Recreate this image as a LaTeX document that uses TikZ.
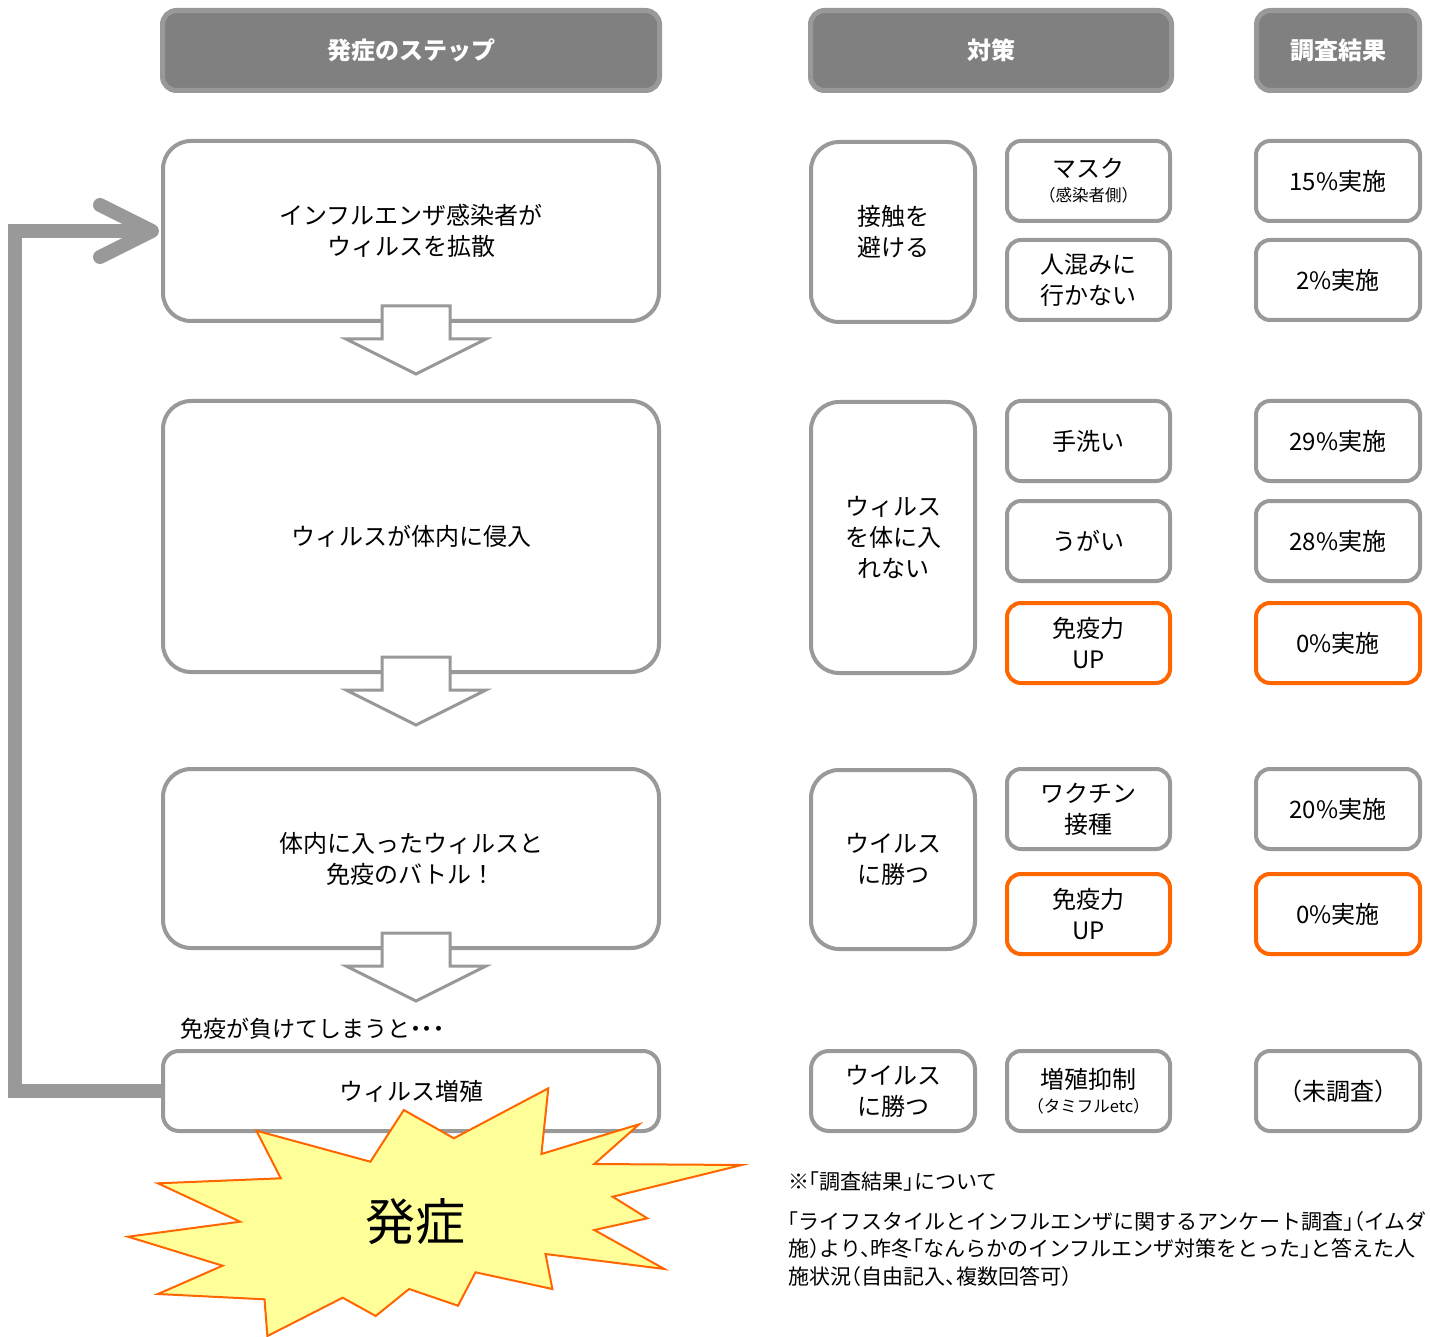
\documentclass[tikz,border=0pt]{standalone}
\usepackage{fontspec}
\setmainfont{Noto Sans CJK JP}
\newfontfamily\halffont[RawFeature=+halt]{Noto Sans CJK JP}
\usetikzlibrary{calc}
\definecolor{boxgray}{HTML}{999999}
\definecolor{hdrfill}{HTML}{808080}
\definecolor{orng}{HTML}{FF6600}
\definecolor{burstfill}{HTML}{FFFF99}
\definecolor{burstline}{HTML}{FF6600}
\tikzset{
  box/.style={draw=boxgray, line width=4pt, rounded corners=28pt, fill=white, align=center,
    inner sep=0pt, outer sep=0pt, font=\fontsize{24}{31}\selectfont},
  sbox/.style={box, rounded corners=14pt},
  hl/.style={draw=orng},
  hdr/.style={draw=boxgray, fill=hdrfill, line width=5pt, rounded corners=14pt, text=white,
    inner sep=0pt, outer sep=0pt, font=\bfseries\fontsize{24}{28}\selectfont, minimum height=80pt},
  blockarrow/.style={draw=boxgray, fill=white, line width=3pt, line join=miter},
  loopline/.style={draw=boxgray, line width=14pt},
  burst/.style={draw=burstline, fill=burstfill, line width=2pt, line join=miter},
  note/.style={font=\halffont\fontsize{21}{27.5}\selectfont, inner sep=0pt, align=left}
}
\begin{document}
\begin{tikzpicture}[x=1pt,y=-1pt]
\useasboundingbox (0,0) rectangle (1430,1337);
\fill[white] (0,0) rectangle (1430,1337);

% headers
\node[hdr, minimum width=497pt] (h1) at (411,50.5) {発症のステップ};
\node[hdr, minimum width=361pt] (h2) at (991,50.5) {対策};
\node[hdr, minimum width=163pt] (h3) at (1338,50.5) {調査結果};

% left boxes
\node[box, minimum width=496pt, minimum height=180pt] (b1) at (411,231) {インフルエンザ感染者が\\ウィルスを拡散};
\node[box, minimum width=496pt, minimum height=271pt] (b2) at (411,536.5) {ウィルスが体内に侵入};
\node[box, minimum width=496pt, minimum height=179pt] (b3) at (411,858.5) {体内に入ったウィルスと\\免疫のバトル！};

% loop connector
\draw[loopline] (163,1091) -- ++(-148,0) |- ($(b1.west)+(-14,0)$);
\node[box, rounded corners=16pt, minimum width=496pt, minimum height=80pt] (b4) at (411,1091) {ウィルス増殖};
\draw[loopline, line cap=round, line join=round] ($(b1.west)+(-63,-26)$) -- ($(b1.west)+(-11,0)$) -- ($(b1.west)+(-63,26)$);

% block arrows
\foreach \b in {b1,b2,b3}{
  \draw[blockarrow, shift={(\b.south)}] (-29,-15) -- (39,-15) -- (39,18) -- (75,18) -- (5,53) -- (-65,18) -- (-29,18) -- cycle;
}

\node[anchor=west, inner sep=0pt, font=\halffont\fontsize{23}{26}\selectfont] (lose) at (180,1029) {免疫が負けてしまうと・・・};

% middle column
\node[box, minimum width=164pt, minimum height=180pt] (m1) at (893,232) {接触を\\避ける};
\node[box, minimum width=164pt, minimum height=271pt] (m2) at (893,537.5) {ウィルス\\を体に入\\れない};
\node[box, minimum width=164pt, minimum height=179pt] (m3) at (893,859.5) {ウイルス\\に勝つ};
\node[box, rounded corners=18pt, minimum width=164pt, minimum height=80pt] (m4) at (893,1091) {ウイルス\\に勝つ};

\tikzset{smw/.style={sbox, minimum width=163pt, minimum height=80pt}}
\node[smw] (s1) at (1088.5,181) {マスク\\[-7pt]{\halffont\fontsize{16.5}{18}\selectfont（感染者側）}};
\node[smw] (s2) at (1088.5,280) {人混みに\\行かない};
\node[smw] (s3) at (1088.5,441) {手洗い};
\node[smw] (s4) at (1088.5,541) {うがい};
\node[smw, hl] (s5) at (1088.5,643) {免疫力\\UP};
\node[smw] (s6) at (1088.5,809) {ワクチン\\接種};
\node[smw, hl] (s7) at (1088.5,914) {免疫力\\UP};
\node[smw] (s8) at (1088.5,1091) {増殖抑制\\[-7pt]{\halffont\fontsize{16.5}{18}\selectfont（タミフルetc）}};

% right column
\tikzset{rmw/.style={sbox, minimum width=164pt, minimum height=80pt}}
\node[rmw] (r1) at (1338,181) {15\%実施};
\node[rmw] (r2) at (1338,280) {2\%実施};
\node[rmw] (r3) at (1338,441) {29\%実施};
\node[rmw] (r4) at (1338,541) {28\%実施};
\node[rmw, hl] (r5) at (1338,643) {0\%実施};
\node[rmw] (r6) at (1338,809) {20\%実施};
\node[rmw, hl] (r7) at (1338,914) {0\%実施};
\node[rmw] (r8) at (1338,1091) {（未調査）};

% burst
\draw[burst] (256.4,1130.7) -- (370.4,1161.7) -- (403.8,1110) -- (453.9,1138.3) -- (548.3,1088.3)
  -- (541.4,1154) -- (639.1,1124.3) -- (594.3,1164) -- (741.7,1165) -- (612.7,1196.7)
  -- (647.3,1218.3) -- (594.3,1230) -- (664.4,1269) -- (545.5,1254) -- (552.4,1289)
  -- (475.5,1272.3) -- (458,1305.7) -- (409.1,1289) -- (375.7,1316) -- (342.7,1297.7)
  -- (267.4,1336) -- (264.5,1299.3) -- (158,1294) -- (222.6,1265.7) -- (128.1,1236.7)
  -- (240.1,1221.7) -- (158,1183.3) -- (280.8,1178.3) -- cycle;
\node[font=\fontsize{50}{56}\selectfont, inner sep=0pt] (onset) at (415,1222) {発症};

% note
\begin{scope}
\clip (0,0) rectangle (1430,1337);
\node[note, anchor=west] (n1) at (788,1182) {※「調査結果」について};
\node[note, anchor=north west] (n2) at (788,1211) {「ライフスタイルとインフルエンザに関するアンケート調査」（イムダ\\施）より、昨冬「なんらかのインフルエンザ対策をとった」と答えた人\\施状況（自由記入、複数回答可）};
\end{scope}
\end{tikzpicture}
\end{document}
